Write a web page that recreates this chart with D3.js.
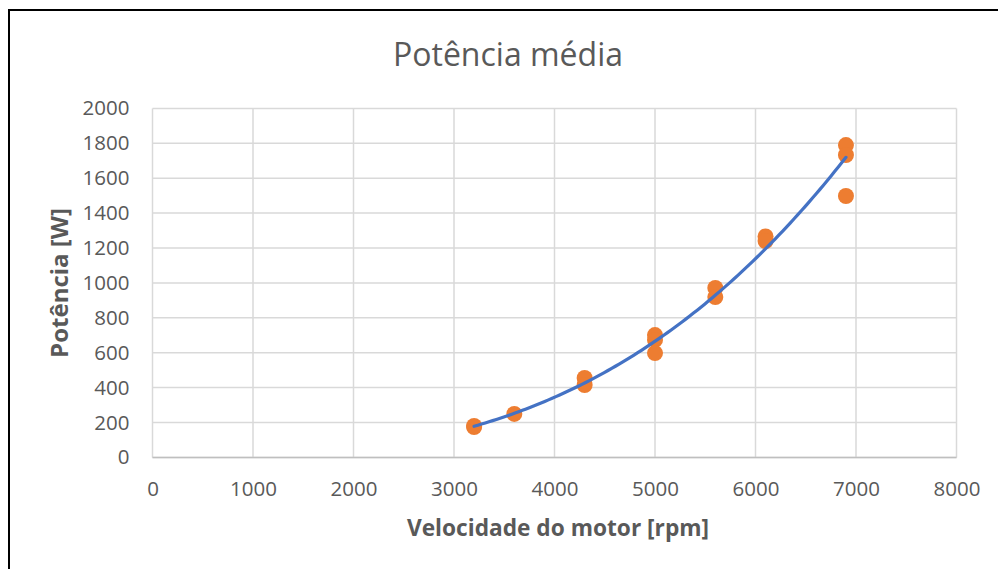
<!DOCTYPE html>
<html>
<head>
<meta charset="utf-8">
<script src="https://cdn.jsdelivr.net/npm/d3@7"></script>
<style>
html,body{margin:0;padding:0;background:#fff;}
svg{display:block;}
text{font-family:"Open Sans",sans-serif;}
</style>
</head>
<body>
<svg id="chart" width="998" height="569"></svg>
<script>
// ---- data ----
const speeds = [3200, 3200, 3600, 4300, 4300, 5000, 5000, 5000, 5600, 5600, 6100, 6100, 6900, 6900, 6900];
const powers = [174, 180, 249, 455, 415, 701, 673, 598, 971, 919, 1266, 1240, 1790, 1733, 1498];
const xTicks = [0, 1000, 2000, 3000, 4000, 5000, 6000, 7000, 8000];
const yTicks = [0, 200, 400, 600, 800, 1000, 1200, 1400, 1600, 1800, 2000];
const chartTitle = "Potência média";
const xTitle = "Velocidade do motor [rpm]";
const yTitle = "Potência [W]";

const svg = d3.select("#chart");
const W = 998, H = 569;
const m = {left: 152.5, right: 956.5, top: 108.4, bottom: 457.4};

// frame
svg.append("rect").attr("x", 9).attr("y", 10).attr("width", W + 20).attr("height", H + 20)
  .attr("fill", "#fff").attr("stroke", "#000").attr("stroke-width", 2);

const x = d3.scaleLinear().domain([0, 8000]).range([m.left, m.right]);
const y = d3.scaleLinear().domain([0, 2000]).range([m.bottom, m.top]);

// gridlines
const grid = svg.append("g");
grid.selectAll("line.h").data(yTicks).join("line")
  .attr("x1", m.left).attr("x2", m.right)
  .attr("y1", d => y(d)).attr("y2", d => y(d))
  .attr("stroke", "#d9d9d9").attr("stroke-width", 1.5);
grid.selectAll("line.v").data(xTicks).join("line")
  .attr("y1", m.top).attr("y2", m.bottom)
  .attr("x1", d => x(d)).attr("x2", d => x(d))
  .attr("stroke", "#d9d9d9").attr("stroke-width", 1.5);
// bottom axis line
svg.append("line").attr("x1", m.left).attr("x2", m.right)
  .attr("y1", y(0)).attr("y2", y(0)).attr("stroke", "#bfbfbf").attr("stroke-width", 1.5);

// axes labels via d3 axes
const xAxis = d3.axisBottom(x).tickValues(xTicks).tickSize(0).tickPadding(0).tickFormat(d3.format("d"));
const gx = svg.append("g").attr("transform", `translate(0,${m.bottom})`).call(xAxis);
gx.select(".domain").remove();
gx.selectAll("text").attr("font-size", 20.5).attr("fill", "#595959")
  .attr("font-family", "Open Sans, sans-serif").attr("dy", "1.88em");

const yAxis = d3.axisLeft(y).tickValues(yTicks).tickSize(0).tickPadding(23).tickFormat(d3.format("d"));
const gy = svg.append("g").attr("transform", `translate(${m.left},0)`).call(yAxis);
gy.select(".domain").remove();
gy.selectAll("text").attr("font-size", 20.5).attr("fill", "#595959")
  .attr("font-family", "Open Sans, sans-serif");

// power-law trendline (least squares in log space, like a spreadsheet power trendline)
const lx = speeds.map(Math.log), ly = powers.map(Math.log);
const mx = d3.mean(lx), my = d3.mean(ly);
const b = d3.sum(lx.map((v, i) => (v - mx) * (ly[i] - my))) / d3.sum(lx.map(v => (v - mx) ** 2));
const a = Math.exp(my - b * mx);
const xmin = d3.min(speeds), xmax = d3.max(speeds);
const trend = d3.range(0, 101).map(i => {
  const s = xmin + (xmax - xmin) * i / 100;
  return [s, a * Math.pow(s, b)];
});

// points
svg.append("g").selectAll("circle").data(speeds).join("circle")
  .attr("cx", (d) => x(d)).attr("cy", (d, i) => y(powers[i]))
  .attr("r", 8).attr("fill", "#ED7D31");

svg.append("path").datum(trend)
  .attr("d", d3.line().x(d => x(d[0])).y(d => y(d[1])))
  .attr("fill", "none").attr("stroke", "#4472C4").attr("stroke-width", 3.2)
  .attr("stroke-linecap", "round");

// titles
svg.append("text").attr("x", 508).attr("y", 66).attr("text-anchor", "middle")
  .attr("font-size", 32).attr("fill", "#595959").text(chartTitle);
svg.append("text").attr("x", 558).attr("y", 536).attr("text-anchor", "middle")
  .attr("font-size", 22.7).attr("font-weight", "bold").attr("fill", "#595959").text(xTitle);
svg.append("text").attr("transform", "translate(68,283) rotate(-90)").attr("text-anchor", "middle")
  .attr("font-size", 24).attr("font-weight", "bold").attr("fill", "#595959").text(yTitle);
</script>
</body>
</html>
